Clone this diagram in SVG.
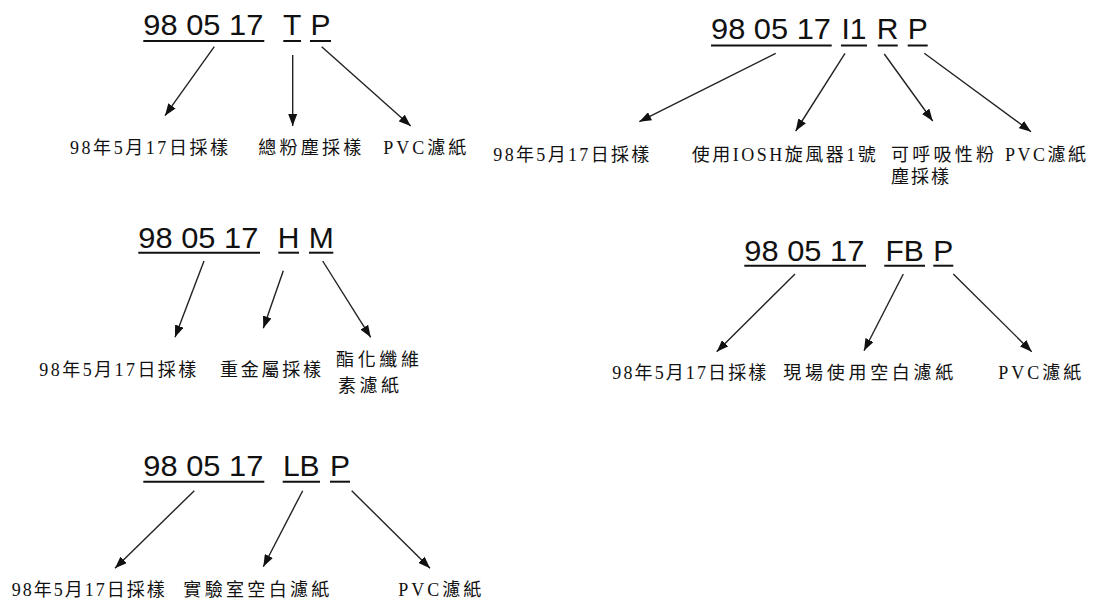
<svg xmlns="http://www.w3.org/2000/svg" width="1095" height="603" viewBox="0 0 1095 603">
<defs>
<style>
.t{font-family:"Liberation Sans",Arial,sans-serif;font-size:30px;fill:#111}
.l{font-family:"Liberation Serif","Noto Sans CJK TC",serif;font-size:18px;fill:#111}
.u{stroke:#111;stroke-width:2}
.c line{stroke:#222;stroke-width:1.4;marker-end:url(#ah)}
</style>
<marker id="ah" viewBox="0 0 12 9" refX="12" refY="4.5" markerWidth="12" markerHeight="9" markerUnits="userSpaceOnUse" orient="auto">
<path d="M0,0 L12,4.5 L0,9 z" fill="#111"/>
</marker>
</defs>
<rect width="1095" height="603" fill="#fff"/>

<g id="code-TP">
<text class="t" x="143.3" y="35" textLength="120" lengthAdjust="spacingAndGlyphs">98 05 17</text>
<text class="t" x="292.2" y="35" text-anchor="middle">T</text>
<text class="t" x="320.5" y="35" text-anchor="middle">P</text>
<line class="u" x1="143.3" y1="41" x2="264.3" y2="41"/>
<line class="u" x1="283.3" y1="41" x2="301" y2="41"/>
<line class="u" x1="310" y1="41" x2="331" y2="41"/>
</g>
<g id="labels-TP">
<text class="l" x="70" y="154" textLength="158" lengthAdjust="spacing">98年5月17日採樣</text>
<text class="l" x="258.3" y="154" textLength="103" lengthAdjust="spacing">總粉塵採樣</text>
<text class="l" x="383.3" y="154" textLength="83" lengthAdjust="spacing">PVC濾紙</text>
</g>

<g id="code-I1RP">
<text class="t" x="711" y="39" textLength="120" lengthAdjust="spacingAndGlyphs">98 05 17</text>
<text class="t" x="854" y="39" text-anchor="middle">I1</text>
<text class="t" x="887.7" y="39" text-anchor="middle">R</text>
<text class="t" x="917.7" y="39" text-anchor="middle">P</text>
<line class="u" x1="711" y1="45.5" x2="831.7" y2="45.5"/>
<line class="u" x1="841" y1="45.5" x2="867" y2="45.5"/>
<line class="u" x1="877.7" y1="45.5" x2="897.7" y2="45.5"/>
<line class="u" x1="907.7" y1="45.5" x2="927.7" y2="45.5"/>
</g>
<g id="labels-I1RP">
<text class="l" x="493.3" y="161" textLength="156" lengthAdjust="spacing">98年5月17日採樣</text>
<text class="l" x="691.7" y="161" textLength="184" lengthAdjust="spacing">使用IOSH旋風器1號</text>
<text class="l" x="891" y="161" textLength="103" lengthAdjust="spacing">可呼吸性粉</text>
<text class="l" x="891" y="183" textLength="58" lengthAdjust="spacing">塵採樣</text>
<text class="l" x="1005" y="161" textLength="81" lengthAdjust="spacing">PVC濾紙</text>
</g>

<g id="code-HM">
<text class="t" x="138.3" y="248" textLength="120" lengthAdjust="spacingAndGlyphs">98 05 17</text>
<text class="t" x="288.7" y="248" text-anchor="middle">H</text>
<text class="t" x="321.2" y="248" text-anchor="middle">M</text>
<line class="u" x1="138.3" y1="252.7" x2="260" y2="252.7"/>
<line class="u" x1="278.3" y1="252.7" x2="299" y2="252.7"/>
<line class="u" x1="309" y1="252.7" x2="333.3" y2="252.7"/>
</g>
<g id="labels-HM">
<text class="l" x="39.3" y="376" textLength="157" lengthAdjust="spacing">98年5月17日採樣</text>
<text class="l" x="220" y="376" textLength="101" lengthAdjust="spacing">重金屬採樣</text>
<text class="l" x="336" y="366" textLength="83" lengthAdjust="spacing">酯化纖維</text>
<text class="l" x="338" y="392" textLength="61" lengthAdjust="spacing">素濾紙</text>
</g>

<g id="code-FBP">
<text class="t" x="744.3" y="261" textLength="120" lengthAdjust="spacingAndGlyphs">98 05 17</text>
<text class="t" x="904.7" y="261" text-anchor="middle">FB</text>
<text class="t" x="943.3" y="261" text-anchor="middle">P</text>
<line class="u" x1="744.3" y1="265.7" x2="866" y2="265.7"/>
<line class="u" x1="884.3" y1="265.7" x2="925" y2="265.7"/>
<line class="u" x1="933.3" y1="265.7" x2="953.3" y2="265.7"/>
</g>
<g id="labels-FBP">
<text class="l" x="612.3" y="379" textLength="154" lengthAdjust="spacing">98年5月17日採樣</text>
<text class="l" x="783.3" y="379" textLength="170" lengthAdjust="spacing">現場使用空白濾紙</text>
<text class="l" x="998.3" y="379" textLength="83" lengthAdjust="spacing">PVC濾紙</text>
</g>

<g id="code-LBP">
<text class="t" x="143.3" y="476" textLength="120" lengthAdjust="spacingAndGlyphs">98 05 17</text>
<text class="t" x="301.3" y="476" text-anchor="middle">LB</text>
<text class="t" x="340" y="476" text-anchor="middle">P</text>
<line class="u" x1="143.3" y1="481.7" x2="264.3" y2="481.7"/>
<line class="u" x1="282.7" y1="481.7" x2="320" y2="481.7"/>
<line class="u" x1="330" y1="481.7" x2="350" y2="481.7"/>
</g>
<g id="labels-LBP">
<text class="l" x="11.7" y="596" textLength="153" lengthAdjust="spacing">98年5月17日採樣</text>
<text class="l" x="183.3" y="596" textLength="146" lengthAdjust="spacing">實驗室空白濾紙</text>
<text class="l" x="398.3" y="596" textLength="83" lengthAdjust="spacing">PVC濾紙</text>
</g>

<g id="connectors" class="c">
<line x1="214.3" y1="46.7" x2="165" y2="115.7"/>
<line x1="292.7" y1="55" x2="292.7" y2="126"/>
<line x1="321.7" y1="46.7" x2="410.7" y2="126"/>

<line x1="775.7" y1="53.3" x2="639.3" y2="121.7"/>
<line x1="845" y1="53.3" x2="795.7" y2="131"/>
<line x1="884.3" y1="54" x2="932.7" y2="121"/>
<line x1="924.3" y1="53.3" x2="1031" y2="131.7"/>

<line x1="204" y1="261" x2="175" y2="337.3"/>
<line x1="283.3" y1="270.7" x2="263.3" y2="328.3"/>
<line x1="322.7" y1="261" x2="370.7" y2="337.3"/>

<line x1="795" y1="274" x2="716.7" y2="351.7"/>
<line x1="903.3" y1="274" x2="864" y2="350.7"/>
<line x1="953.3" y1="274" x2="1031.7" y2="351.7"/>

<line x1="194.3" y1="490.7" x2="115" y2="568.3"/>
<line x1="302.7" y1="490.7" x2="263.3" y2="566.7"/>
<line x1="351.7" y1="490.7" x2="430" y2="568.3"/>
</g>
</svg>
